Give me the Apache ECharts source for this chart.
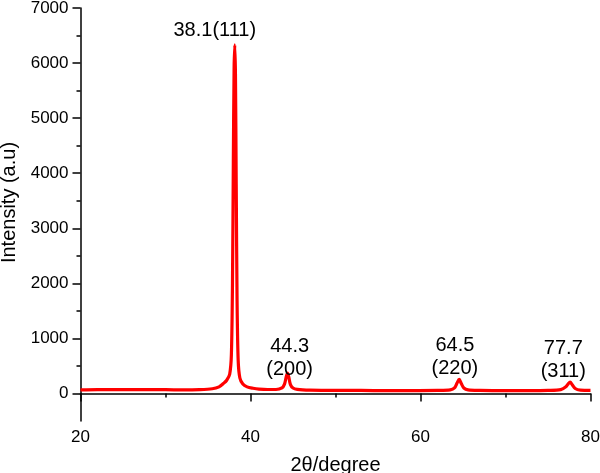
<!DOCTYPE html>
<html>
<head>
<meta charset="utf-8">
<script src="https://cdn.jsdelivr.net/npm/echarts@6/dist/echarts.min.js"></script>
<style>html,body{margin:0;padding:0;background:#fff}#c{width:600px;height:473px}</style>
</head>
<body>
<div id="c"></div>
<script>
// 2theta (degree) and intensity (a.u.)
const twoTheta = [20, 22, 24, 26, 28, 30, 32, 34, 35.5, 36.3, 36.8, 37.2, 37.55, 37.75, 37.88, 37.98, 38.07, 38.15, 38.23, 38.32, 38.42, 38.55, 38.75, 39.1, 39.6, 40.3, 41, 42, 43, 43.7, 44.0, 44.2, 44.35, 44.5, 44.7, 45.0, 45.5, 47, 50, 53, 56, 59, 62, 63.5, 64.0, 64.3, 64.55, 64.8, 65.1, 65.6, 67, 70, 73, 75, 76.5, 77.1, 77.4, 77.6, 77.85, 78.2, 78.8, 80];
const intensity = [65, 70, 68, 72, 70, 68, 66, 70, 85, 120, 180, 240, 350, 700, 2000, 4200, 5900, 6330, 5800, 3800, 1700, 600, 280, 170, 120, 95, 80, 72, 72, 100, 170, 300, 370, 300, 160, 100, 75, 60, 55, 55, 50, 52, 55, 65, 100, 190, 255, 180, 100, 65, 55, 50, 50, 55, 70, 120, 180, 205, 160, 90, 60, 55];
// peak annotations
const peakPos = [38.1, 44.3, 64.5, 77.7];
const peakLabels = ['38.1(111)', '44.3\n(200)', '64.5\n(220)', '77.7\n(311)'];
const labelAnchorX = [35.8, 44.6, 64.05, 76.8];
const labelAnchorY = [6600, 640, 660, 600];
// axis ticks
const yMajorTicks = [0, 1000, 2000, 3000, 4000, 5000, 6000, 7000];
const yMinorTicks = [500, 1500, 2500, 3500, 4500, 5500, 6500];

const pts = twoTheta.map((x, i) => [x, intensity[i]]);
const font = 'Liberation Sans, Arial, sans-serif';
const chart = echarts.init(document.getElementById('c'));
chart.setOption({
  animation: false,
  grid: {left: 80.5, right: 9.5, top: 8, bottom: 52, containLabel: false, outerBoundsMode: 'none'},
  xAxis: {
    type: 'value', min: 20, max: 80, interval: 20,
    name: '2θ/degree', nameLocation: 'middle', nameGap: 34,
    nameTextStyle: {fontFamily: font, fontSize: 20, color: '#000'},
    axisLine: {lineStyle: {color: '#000', width: 1.5}},
    axisTick: {length: 8, lineStyle: {color: '#000', width: 1.5}},
    minorTick: {show: true, splitNumber: 2, length: 4, lineStyle: {color: '#000', width: 1.5}},
    axisLabel: {fontFamily: font, fontSize: 17, color: '#000', margin: 8},
    splitLine: {show: false}, minorSplitLine: {show: false}
  },
  yAxis: [{
    type: 'value', min: -500, max: 7000,
    name: 'Intensity (a.u)', nameLocation: 'middle', nameGap: 60,
    nameTextStyle: {fontFamily: font, fontSize: 20, color: '#000', padding: [0, 0, 0, 24]},
    axisLine: {show: true, lineStyle: {color: '#000', width: 1.5}},
    axisTick: {show: true, length: 8, customValues: yMajorTicks, lineStyle: {color: '#000', width: 1.5}},
    axisLabel: {fontFamily: font, fontSize: 17, color: '#000', margin: 12, customValues: yMajorTicks,
      formatter: v => String(v)},
    splitLine: {show: false}
  }, {
    type: 'value', min: -500, max: 7000, position: 'left',
    axisLine: {show: false},
    axisTick: {show: true, length: 4, customValues: yMinorTicks, lineStyle: {color: '#000', width: 1.5}},
    axisLabel: {show: false},
    splitLine: {show: false}
  }],
  series: [{
    type: 'line', data: pts, showSymbol: false, smooth: 0.3,
    lineStyle: {color: '#ff0000', width: 3.2}, itemStyle: {color: '#ff0000'},
    markPoint: {
      symbol: 'circle', symbolSize: 0, silent: true,
      label: {show: true, position: 'inside', fontFamily: font, fontSize: 20, color: '#000', lineHeight: 23,
        formatter: p => p.name},
      data: peakLabels.map((t, i) => ({name: t, coord: [labelAnchorX[i], labelAnchorY[i]], value: peakPos[i]}))
    }
  }]
});
</script>
</body>
</html>
